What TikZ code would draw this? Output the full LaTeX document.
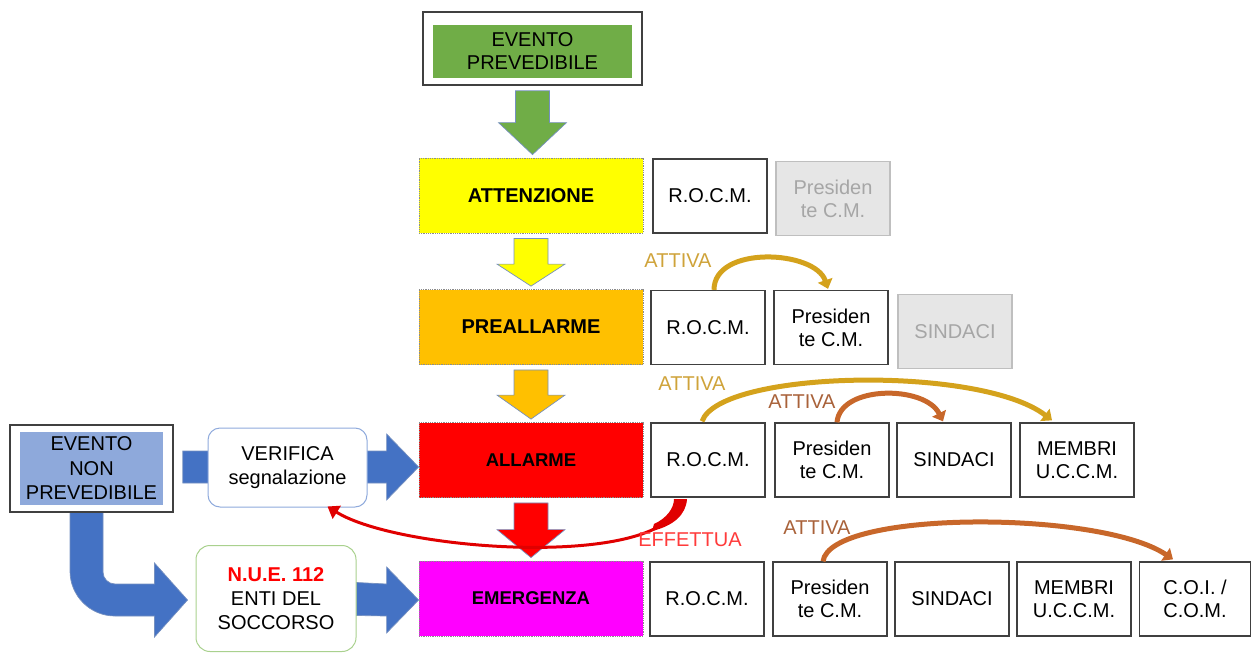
\documentclass[tikz,border=0pt]{standalone}
\usepackage{fontspec}
\setmainfont{Liberation Sans}
\usetikzlibrary{calc,arrows.meta}

\definecolor{evgreen}{HTML}{70AD47}
\definecolor{evblue}{HTML}{8EA9DB}
\definecolor{flowblue}{HTML}{4472C4}
\definecolor{stageyellow}{HTML}{FFFF00}
\definecolor{stageorange}{HTML}{FFC000}
\definecolor{stagered}{HTML}{FF0000}
\definecolor{stagemagenta}{HTML}{FF00FF}
\definecolor{boxline}{HTML}{404040}
\definecolor{greyfill}{HTML}{E6E6E6}
\definecolor{greyline}{HTML}{BFBFBF}
\definecolor{greytext}{HTML}{A6A6A6}
\definecolor{arrowedge}{HTML}{7590C0}
\definecolor{goldarc}{HTML}{D4A21C}
\definecolor{goldlabel}{HTML}{CFA33A}
\definecolor{brownarc}{HTML}{C8672A}
\definecolor{brownlabel}{HTML}{A9623A}
\definecolor{redarc}{HTML}{E00000}
\definecolor{redlabel}{HTML}{FF3B3B}
\definecolor{verline}{HTML}{8FAADC}
\definecolor{nueline}{HTML}{A9D18E}

\pgfdeclarelayer{bg}
\pgfsetlayers{bg,main}

\begin{document}
\begin{tikzpicture}[x=1pt,y=-1pt,
  txt/.style={font=\fontsize{20}{23}\selectfont, align=center},
  box/.style={txt, draw=boxline, line width=1.3pt, fill=white,
    minimum width=114, minimum height=74, inner sep=0pt},
  greybox/.style={box, draw=greyline, fill=greyfill, text=greytext},
  stage/.style={font=\bfseries\fontsize{20}{23}\selectfont, draw=black!45,
    densely dotted, line width=0.8pt, minimum width=224, minimum height=75,
    inner sep=0pt},
  frame/.style={draw=boxline, line width=1.5pt, fill=white, inner sep=0pt},
  blockline/.style={draw=arrowedge, line width=0.7pt},
  goldarrow/.style={draw=goldarc, line width=5pt, -{Triangle[width=15pt,length=9pt]}},
  brownarrow/.style={draw=brownarc, line width=5pt, -{Triangle[width=15pt,length=9pt]}},
  tag/.style={font=\fontsize{20}{23}\selectfont, inner sep=0pt}
]
\useasboundingbox (0,0) rectangle (1252,653);

% ---- predictable event ----
\node[frame, minimum width=219, minimum height=73] (epframe) at (532.5,48.5) {};
\node[txt, fill=evgreen, minimum width=199, minimum height=53, inner sep=0pt]
  (ep) at (532.5,51.5) {EVENTO\\PREVEDIBILE};

% ---- alert stages ----
\node[stage, fill=stageyellow] (att) at (531,195.5) {ATTENZIONE};
\node[stage, fill=stageorange] (pre) at (531,327) {PREALLARME};
\node[stage, fill=stagered, font=\bfseries\fontsize{18.5}{22}\selectfont] (all) at (531,460) {ALLARME};
\node[stage, fill=stagemagenta, font=\bfseries\fontsize{18.5}{22}\selectfont] (eme) at (531,598.5) {EMERGENZA};

% ---- actors per stage ----
\node[box] (r1a) at (710,196) {R.O.C.M.};
\node[greybox] (r1b) at (833,198.5) {Presiden\\te C.M.};

\node[box] (r2a) at (708,327.5) {R.O.C.M.};
\node[box] (r2b) at (831,327.5) {Presiden\\te C.M.};
\node[greybox] (r2c) at (955,331.5) {SINDACI};

\node[box] (r4a) at (708,460) {R.O.C.M.};
\node[box] (r4b) at (832,460) {Presiden\\te C.M.};
\node[box] (r4c) at (954,460) {SINDACI};
\node[box] (r4d) at (1077,460) {MEMBRI\\U.C.C.M.};

\node[box] (r5a) at (707,599) {R.O.C.M.};
\node[box] (r5b) at (830,599) {Presiden\\te C.M.};
\node[box] (r5c) at (952,599) {SINDACI};
\node[box] (r5d) at (1074,599) {MEMBRI\\U.C.C.M.};
\node[box, minimum width=111] (r5e) at (1195,599) {C.O.I. /\\C.O.M.};

% ---- unpredictable event ----
\node[frame, minimum width=163, minimum height=87] (enpframe) at (91.5,468.5) {};
\node[txt, fill=evblue, minimum width=143, minimum height=73, inner sep=0pt,
  font=\fontsize{20}{24.5}\selectfont] (enp) at (91.5,468.5) {EVENTO\\NON\\PREVEDIBILE};

\node[txt, draw=verline, line width=1pt, fill=white, rounded corners=12pt,
  minimum width=159, minimum height=79, inner sep=0pt,
  font=\fontsize{20}{24}\selectfont] (ver) at (287.5,467.5) {VERIFICA\\segnalazione};

\node[txt, draw=nueline, line width=1pt, fill=white, rounded corners=14pt,
  minimum width=160, minimum height=106, inner sep=0pt,
  font=\fontsize{20}{24}\selectfont] (nue) at (276,598.5)
  {\textcolor{red}{\bfseries N.U.E. 112}\\ENTI DEL\\SOCCORSO};

% ---- block arrows (behind the boxes) ----
\begin{pgfonlayer}{bg}
  % downward arrows between stages
  \foreach \a/\b/\c/\h in {epframe/att/evgreen/32, att/pre/stageyellow/22,
                           pre/all/stageorange/24, all/eme/stagered/28}{
    \filldraw[blockline, fill=\c]
      ($(\a.south |- \a.south)+(0,5)$) coordinate (s)
      ($(s)+(-17,0)$) -- ($(s)+(17,0)$)
      -- ($(\a.south |- \b.north)+(17,-\h-3)$)
      -- ($(\a.south |- \b.north)+(34,-\h-3)$)
      -- ($(\a.south |- \b.north)+(0,-3)$)
      -- ($(\a.south |- \b.north)+(-34,-\h-3)$)
      -- ($(\a.south |- \b.north)+(-17,-\h-3)$) -- cycle;
  }
  % event -> verification -> alarm
  \coordinate (t1) at ($(all.west)+(0,7)$);
  \filldraw[blockline, fill=flowblue]
    ($(enpframe.east)+(9,-17.5)$) -- ($(t1)+(-32,-16)$) -- ($(t1)+(-32,-33)$)
    -- (t1) -- ($(t1)+(-32,33)$) -- ($(t1)+(-32,16)$)
    -- ($(enpframe.east)+(9,14.5)$) -- cycle;
  % emergency numbers -> emergency
  \coordinate (t2) at ($(eme.west)+(0,1.5)$);
  \filldraw[blockline, fill=flowblue]
    ($(nue.east)+(0,-16)$) -- ($(t2)+(-32,-16)$) -- ($(t2)+(-32,-33)$)
    -- (t2) -- ($(t2)+(-32,33)$) -- ($(t2)+(-32,16)$)
    -- ($(nue.east)+(0,17)$) -- cycle;
  % bent arrow: event -> emergency numbers
  \coordinate (t3) at ($(nue.west)+(-8,1.5)$);
  \filldraw[blockline, fill=flowblue]
    (70,512) -- (70,571) arc[start angle=180, end angle=90, radius=45]
    -- ($(t3)+(-33,16)$) -- ($(t3)+(-33,37)$) -- (t3)
    -- ($(t3)+(-33,-37)$) -- ($(t3)+(-33,-16)$)
    -- (115,584) arc[start angle=90, end angle=180, radius=12]
    -- (103,512) -- cycle;
\end{pgfonlayer}

% ---- activation arcs ----
\coordinate (g1s) at ($(r2a.north)+(6,0)$);
\coordinate (g1e) at ($(r2b.north)+(-3,-1)$);
\draw[goldarrow] (g1s) .. controls (714,245) and (815,250) .. (g1e);
\node[tag, text=goldlabel] (lab1) at (678,261) {ATTIVA};

\coordinate (g2s) at ($(r4a.north)+(-6,-1)$);
\coordinate (g2e) at ($(r4d.north)+(-25,-2)$);
\draw[goldarrow] (g2s) .. controls (720,370) and (980,365) .. (g2e);
\node[tag, text=goldlabel] (lab2) at (692,384) {ATTIVA};

\coordinate (b1s) at ($(r4b.north)+(5,0)$);
\coordinate (b1e) at ($(r4c.north)+(-11,-1)$);
\draw[brownarrow] (b1s) .. controls (840,385) and (925,385) .. (b1e);
\node[tag, text=brownlabel] (lab3) at (802,402) {ATTIVA};

\coordinate (b2s) at ($(r5b.north)+(-7,0)$);
\coordinate (b2e) at ($(r5e.north)+(-22,-2)$);
\draw[brownarrow] (b2s) .. controls (830,510) and (1100,510) .. (b2e);
\node[tag, text=brownlabel] (lab4) at (817,528) {ATTIVA};

% ---- verification request back to the report check ----
\coordinate (rs) at ($(r4a.south)+(-28,3)$);
\coordinate (re) at ($(ver.south)+(40,-1)$);
\fill[redarc] (674,499) -- (687,499) .. controls (686,515) and (673,526) .. (652,531)
  -- (654,524) .. controls (667,518) and (674,508) .. (674,499) -- cycle;
\draw[redarc, line width=3pt, -{Triangle[width=15pt,length=11pt]}]
  (rs) .. controls (670,570) and (400,552) .. (re);
\node[tag, text=redlabel] (lab5) at (690,540) {EFFETTUA};

\end{tikzpicture}
\end{document}
